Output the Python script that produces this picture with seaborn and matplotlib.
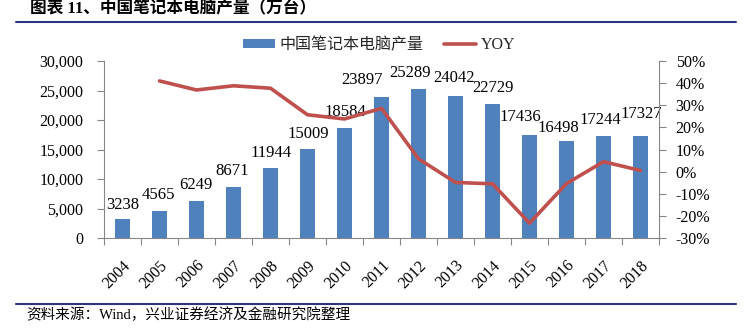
import numpy as np
import pandas as pd
import matplotlib
matplotlib.use('Agg')
import matplotlib.pyplot as plt
import seaborn as sns
from matplotlib.ticker import FuncFormatter
from matplotlib.patches import Patch
from matplotlib.lines import Line2D

# ---------------- data ----------------
years = ['2004', '2005', '2006', '2007', '2008', '2009', '2010', '2011',
         '2012', '2013', '2014', '2015', '2016', '2017', '2018']
production = [3238, 4565, 6249, 8671, 11944, 15009, 18584, 23897,
              25289, 24042, 22729, 17436, 16498, 17244, 17327]
yoy = [np.nan, 41.0, 36.9, 38.8, 37.7, 25.7, 23.8, 28.6,
       5.8, -4.9, -5.5, -23.3, -5.4, 4.5, 0.5]
left_ticks = [0, 5000, 10000, 15000, 20000, 25000, 30000]
right_ticks = [-30, -20, -10, 0, 10, 20, 30, 40, 50]
bar_name = '中国笔记本电脑产量'
line_name = 'YOY'
title_text = '图表 11、中国笔记本电脑产量（万台）'
source_text = '资料来源：Wind，兴业证券经济及金融研究院整理'

# label nudges (pixels) to mimic manual placement
label_dx = [0, -1, -1, -1, 1, 1, 1, -19, -9, -2, 0, -9, -8, -3, 1]
label_dy = [10, 12, 12, 12, 11, 11, 12, 13, 12, 14, 12, 14, 9, 12, 18]

BAR = '#4F81BD'
RED = '#C0504D'
AXC = '#868686'
NAVY = '#2E3580'

sns.set_theme(style='white')
plt.rcParams['font.family'] = ['Liberation Serif', 'Noto Sans CJK SC']
plt.rcParams['axes.unicode_minus'] = False

W, H = 750, 329
fig = plt.figure(figsize=(W / 100, H / 100), dpi=100)
ax = fig.add_axes([104 / W, (H - 238) / H, (659 - 104) / W, (238 - 61) / H])

df = pd.DataFrame({'year': years, 'production': production, 'yoy': yoy})
df['idx'] = df.index

sns.barplot(data=df, x='year', y='production', color=BAR, saturation=1,
            width=0.4, ax=ax, edgecolor='none')

ax2 = ax.twinx()
line_df = df[df['yoy'].notna()]
sns.lineplot(data=line_df, x='idx', y='yoy', ax=ax2, color=RED, lw=2.6,
             solid_capstyle='round')

ax.set_xlim(-0.5, len(years) - 0.5)
ax.set_ylim(left_ticks[0], left_ticks[-1])
ax2.set_ylim(right_ticks[0], right_ticks[-1])
ax.set_yticks(left_ticks)
ax2.set_yticks(right_ticks)
ax.yaxis.set_major_formatter(FuncFormatter(lambda v, p: f'{int(v):,}'))
ax2.yaxis.set_major_formatter(FuncFormatter(lambda v, p: f'{int(v)}%'))

ax.set_xlabel('')
ax.set_ylabel('')
ax2.set_xlabel('')
ax2.set_ylabel('')

# x ticks: labels at categories, marks at boundaries
ax.set_xticks(range(len(years)))
ax.set_xticklabels(years, rotation=45, ha='right', rotation_mode='anchor')
ax.set_xticks(np.arange(-0.5, len(years), 1), minor=True)
ax.tick_params(axis='x', which='major', length=0, pad=14, labelsize=11.5, colors='black')
ax.tick_params(axis='x', which='minor', length=5, width=0.8, color=AXC, direction='out', bottom=True)
ax.tick_params(axis='y', which='major', length=5, width=0.8, color=AXC, direction='out',
               pad=10, labelsize=11.5, labelcolor='black', left=True)
ax2.tick_params(axis='y', which='major', length=5, width=0.8, color=AXC, direction='out',
                pad=7, labelsize=11.5, labelcolor='black', right=True)

for a in (ax, ax2):
    a.grid(False)
    a.spines['top'].set_visible(False)
    for s in ('left', 'right', 'bottom'):
        a.spines[s].set_color(AXC)
        a.spines[s].set_linewidth(0.8)
ax.spines['right'].set_visible(False)
ax2.spines['left'].set_visible(False)
ax2.spines['bottom'].set_visible(False)

# data labels
for bar, v, dx, dy in zip(ax.patches, production, label_dx, label_dy):
    cx = bar.get_x() + bar.get_width() / 2
    ax.annotate(f'{v}', xy=(cx, bar.get_height()), xytext=(dx, dy),
                textcoords='offset pixels', ha='center', va='baseline',
                fontsize=12, color='black', annotation_clip=False)

# legend
handles = [Patch(facecolor=BAR, edgecolor='none', label=bar_name),
           Line2D([0], [0], color=RED, lw=2.6, label=line_name)]
fig.legend(handles=handles, loc='center', bbox_to_anchor=(379 / W, (H - 45) / H),
           ncol=2, frameon=False, fontsize=11.5, handlelength=2.0, handleheight=0.55,
           columnspacing=1.25, handletextpad=0.3)

# title, rules and source
fig.text(30 / W, (H - 9) / H, title_text, fontsize=12, fontweight='bold',
         ha='left', va='center', color='black')
fig.add_artist(Line2D([16 / W, 736 / W], [(H - 22) / H, (H - 22) / H],
                      color=NAVY, lw=1.5, transform=fig.transFigure))
fig.add_artist(Line2D([16 / W, 736 / W], [(H - 304) / H, (H - 304) / H],
                      color=NAVY, lw=1.5, transform=fig.transFigure))
fig.text(26 / W, (H - 315) / H, source_text, fontsize=10.5, ha='left', va='center',
         color='black')

fig.savefig('out.png', dpi=100, facecolor='white')
